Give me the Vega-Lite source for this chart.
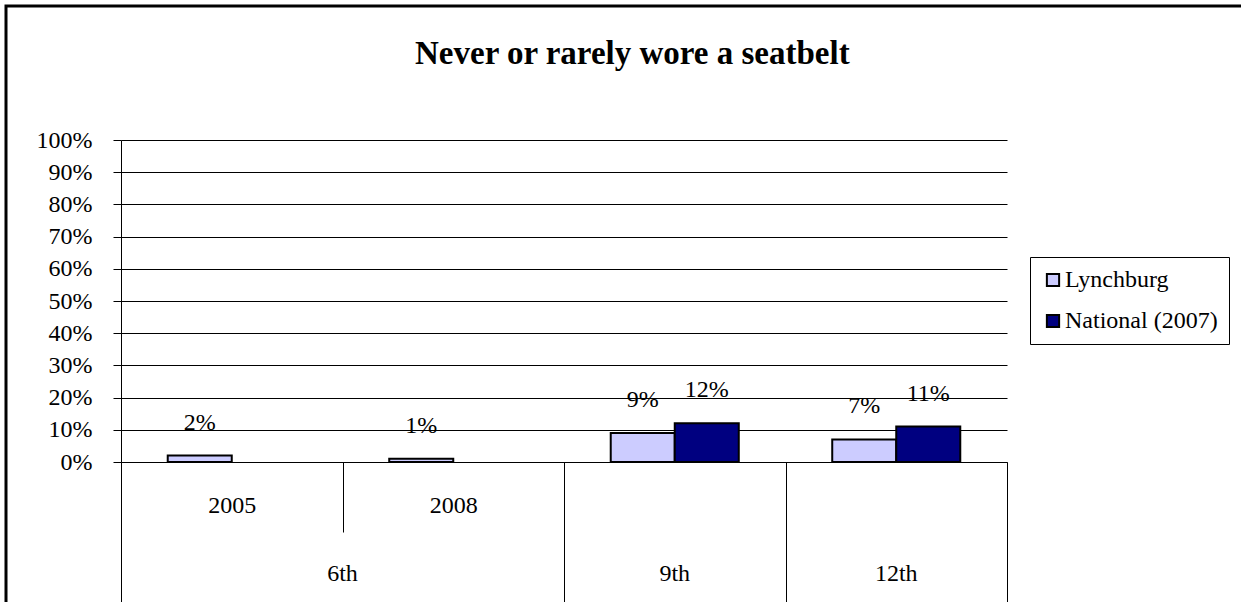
{
  "$schema": "https://vega.github.io/schema/vega-lite/v6.json",
  "width": 1235,
  "height": 596,
  "autosize": "none",
  "padding": {"left": 6, "top": 6, "right": 0, "bottom": 0},
  "background": "white",
  "title": {
    "text": "Never or rarely wore a seatbelt",
    "font": "Liberation Serif",
    "fontSize": 33,
    "fontWeight": "bold",
    "color": "black",
    "anchor": "start",
    "baseline": "alphabetic",
    "dx": 409,
    "offset": -91
  },
  "config": {
    "view": {"stroke": "black", "strokeWidth": 3, "fill": "white", "strokeDash": [1235, 1831, 596]},
    "axis": {"labelFont": "Liberation Serif", "labelFontSize": 24, "labelColor": "black", "titleFont": "Liberation Serif"}
  },
  "data": {
    "values": [
      {"cat": "6th-2005", "grade": "6th", "year": "2005", "series": "Lynchburg", "value": 0.02},
      {"cat": "6th-2008", "grade": "6th", "year": "2008", "series": "Lynchburg", "value": 0.01},
      {"cat": "9th", "grade": "9th", "year": "", "series": "Lynchburg", "value": 0.09},
      {"cat": "9th", "grade": "9th", "year": "", "series": "National (2007)", "value": 0.12},
      {"cat": "12th", "grade": "12th", "year": "", "series": "Lynchburg", "value": 0.07},
      {"cat": "12th", "grade": "12th", "year": "", "series": "National (2007)", "value": 0.11}
    ]
  },
  "encoding": {
    "xOffset": {"field": "series", "type": "nominal", "sort": ["Lynchburg", "National (2007)"], "scale": {"paddingInner": 0, "paddingOuter": 0.73}},
    "y": {
      "field": "value",
      "type": "quantitative",
      "scale": {"domain": [0, 1], "nice": false, "range": [456, 134]},
      "axis": {
        "title": null,
        "offset": -115,
        "values": [0, 0.1, 0.2, 0.3, 0.4, 0.5, 0.6, 0.7, 0.8, 0.9, 1],
        "format": ".0%",
        "grid": true,
        "gridColor": "black",
        "gridWidth": 1,
        "domainColor": "black",
        "domainWidth": 1,
        "tickColor": "black",
        "tickSize": 8,
        "labelPadding": 21,
        "labelBaseline": "middle"
      }
    }
  },
  "layer": [
    {
      "mark": {"type": "bar", "stroke": "black", "strokeWidth": 2},
      "encoding": {
        "x": {
          "field": "cat",
          "type": "nominal",
          "sort": ["6th-2005", "6th-2008", "9th", "12th"],
          "scale": {"paddingInner": 0, "paddingOuter": 0, "range": [115, 1001]},
          "axis": {
            "orient": "bottom",
            "offset": -140,
            "title": null,
            "grid": false,
            "labelAngle": 0,
            "labelExpr": "datum.value == '6th-2005' ? '2005' : datum.value == '6th-2008' ? '2008' : ''",
            "tickBand": "extent",
            "tickColor": "black",
            "tickWidth": 1,
            "tickSize": {"condition": {"test": "datum.value == '6th-2005'", "value": 70}, "value": 140},
            "labelPadding": {"condition": {"test": "datum.value == '6th-2005'", "value": -20}, "value": -90},
            "labelBaseline": "alphabetic",
            "domainColor": "black",
            "domainWidth": 1
          }
        },
        "color": {
          "field": "series",
          "type": "nominal",
          "scale": {"domain": ["Lynchburg", "National (2007)"], "range": ["#CCCCFF", "#000080"]},
          "legend": {
            "title": null,
            "orient": "none",
            "legendX": 1024,
            "legendY": 251,
            "strokeColor": "black",
            "fillColor": "white",
            "padding": 11,
            "symbolType": "square",
            "symbolSize": 150,
            "symbolStrokeColor": "black",
            "symbolStrokeWidth": 2,
            "labelFont": "Liberation Serif",
            "labelFontSize": 24,
            "labelColor": "black",
            "labelLimit": 300,
            "labelOffset": 0,
            "rowPadding": 17
          }
        }
      }
    },
    {
      "mark": {"type": "text", "font": "Liberation Serif", "fontSize": 24, "color": "black", "baseline": "alphabetic", "dy": -26},
      "encoding": {
        "x": {
          "field": "cat",
          "type": "nominal",
          "sort": ["6th-2005", "6th-2008", "9th", "12th"],
          "scale": {"paddingInner": 0, "paddingOuter": 0, "range": [115, 1001]},
          "axis": {
            "orient": "bottom",
            "offset": -140,
            "title": null,
            "grid": false,
            "ticks": false,
            "domain": false,
            "labelAngle": 0,
            "labelExpr": "datum.value == '6th-2005' ? '' : datum.value == '6th-2008' ? '6th' : datum.value",
            "labelOffset": {"condition": {"test": "datum.value == '6th-2008'", "value": -110.75}, "value": 0},
            "labelPadding": 118,
            "labelBaseline": "alphabetic"
          }
        },
        "text": {"field": "value", "type": "quantitative", "format": ".0%"}
      }
    }
  ],
  "resolve": {"axis": {"x": "independent"}}
}
